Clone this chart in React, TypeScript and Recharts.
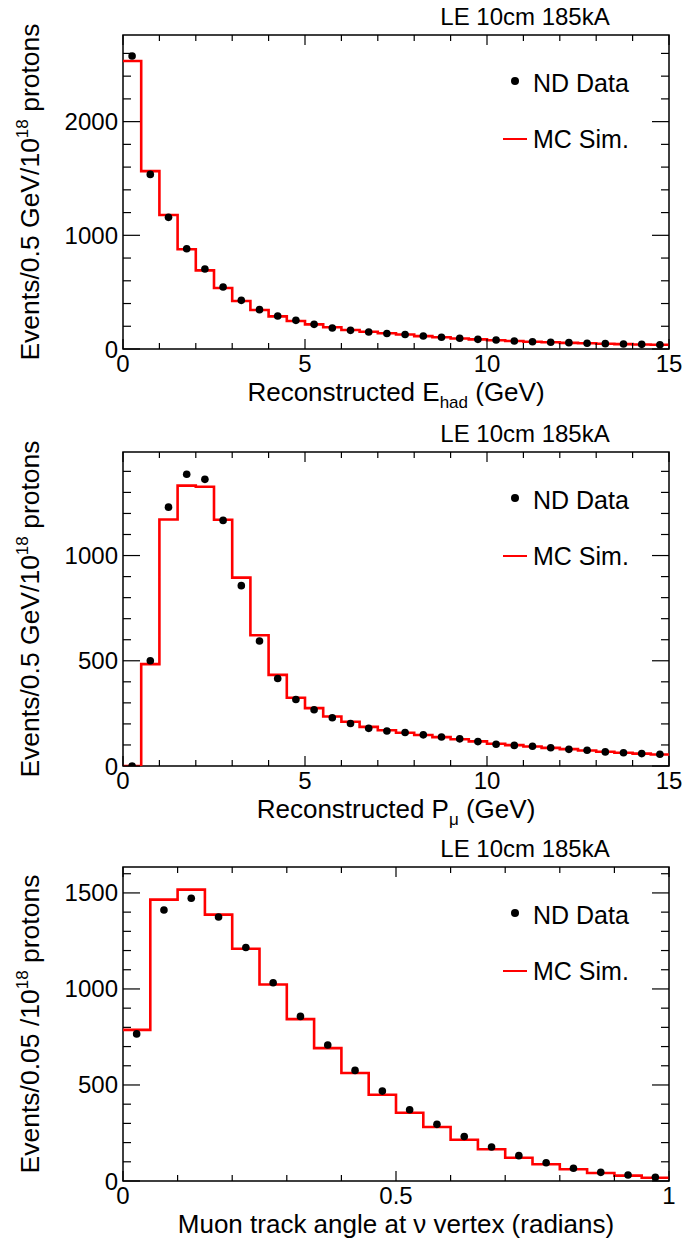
import React from 'react';
import { ComposedChart, Line, Scatter, XAxis, YAxis, ReferenceArea } from 'recharts';

const FONT = '"Liberation Sans", Arial, Helvetica, sans-serif';

// bin edges
const GEV_EDGES = [
  0, 0.5, 1, 1.5, 2, 2.5, 3, 3.5, 4, 4.5, 5, 5.5, 6, 6.5, 7, 7.5,
  8, 8.5, 9, 9.5, 10, 10.5, 11, 11.5, 12, 12.5, 13, 13.5, 14, 14.5, 15,
];
const ANGLE_EDGES = [
  0, 0.05, 0.1, 0.15, 0.2, 0.25, 0.3, 0.35, 0.4, 0.45, 0.5,
  0.55, 0.6, 0.65, 0.7, 0.75, 0.8, 0.85, 0.9, 0.95, 1,
];

// Reconstructed E_had
const EHAD_MC = [
  2533, 1565, 1179, 877, 692, 537, 422, 343, 287, 246, 217, 191, 167, 152, 138,
  127, 113, 103, 93, 85, 77, 70, 64, 59, 54, 50, 46, 43, 40, 37,
];
const EHAD_DATA = [
  2577, 1536, 1158, 882, 704, 545, 428, 346, 290, 252, 217, 185, 164, 150, 137,
  127, 114, 103, 94, 85, 79, 70, 64, 59, 56, 50, 47, 44, 41, 38,
];

// Reconstructed P_mu
const PMU_MC = [
  0, 484, 1171, 1332, 1327, 1170, 895, 621, 433, 324, 275, 235, 210, 186, 170,
  158, 147, 137, 127, 117, 106, 99, 93, 86, 80, 74, 68, 63, 59, 55,
];
const PMU_DATA = [
  0, 500, 1230, 1386, 1362, 1167, 857, 594, 416, 316, 267, 229, 202, 179, 166,
  159, 148, 138, 129, 116, 103, 98, 94, 87, 79, 75, 67, 63, 59, 56,
];

// Muon track angle
const ANGLE_MC = [
  787, 1465, 1517, 1387, 1209, 1023, 843, 692, 562, 449,
  355, 281, 215, 165, 121, 87, 61, 42, 28, 17,
];
const ANGLE_DATA = [
  766, 1411, 1472, 1375, 1216, 1032, 857, 708, 576, 468,
  371, 295, 232, 177, 132, 95, 66, 45, 31, 19,
];

// ticks
const GEV_TICKS = [0, 1, 2, 3, 4, 5, 6, 7, 8, 9, 10, 11, 12, 13, 14, 15];
const GEV_MAJOR = [0, 5, 10, 15];
const ANGLE_TICKS = [0, 0.1, 0.2, 0.3, 0.4, 0.5, 0.6, 0.7, 0.8, 0.9, 1];
const ANGLE_MAJOR = [0, 0.5, 1];
const EHAD_YTICKS = [0, 200, 400, 600, 800, 1000, 1200, 1400, 1600, 1800, 2000, 2200, 2400, 2600];
const EHAD_YMAJOR = [0, 1000, 2000];
const PMU_YTICKS = [0, 100, 200, 300, 400, 500, 600, 700, 800, 900, 1000, 1100, 1200, 1300, 1400];
const PMU_YMAJOR = [0, 500, 1000];
const ANGLE_YTICKS = [0, 100, 200, 300, 400, 500, 600, 700, 800, 900, 1000, 1100, 1200, 1300, 1400, 1500, 1600];
const ANGLE_YMAJOR = [0, 500, 1000, 1500];

const TITLE = 'LE 10cm 185kA';

const W = 685;
const H = 416;
const LEFT = 123;
const RIGHT = 16;
const TOP = 35;
const BOTTOM = 67;
const PLOT_W = W - LEFT - RIGHT;
const PLOT_H = H - TOP - BOTTOM;

const isIn = (list: number[], v: number) => list.some((m) => Math.abs(m - v) < 1e-9);

const makeXTick = (majors: number[]) => (props: any) => {
  const { x, y, payload } = props;
  const v = payload.value;
  const major = isIn(majors, v);
  const len = major ? 10 : 6;
  return (
    <g>
      <line x1={x} x2={x} y1={y} y2={y - len} stroke="#000" strokeWidth={1.2} />
      <line x1={x} x2={x} y1={y - PLOT_H} y2={y - PLOT_H + len} stroke="#000" strokeWidth={1.2} />
      {major && (
        <text x={x} y={y + 23} textAnchor="middle" fontSize={24} fontFamily={FONT} fill="#000">
          {String(v)}
        </text>
      )}
    </g>
  );
};

const makeYTick = (majors: number[]) => (props: any) => {
  const { x, y, payload } = props;
  const v = payload.value;
  const major = isIn(majors, v);
  const len = major ? 17 : 8;
  return (
    <g>
      <line x1={x} x2={x + len} y1={y} y2={y} stroke="#000" strokeWidth={1.2} />
      <line x1={x + PLOT_W - len} x2={x + PLOT_W} y1={y} y2={y} stroke="#000" strokeWidth={1.2} />
      {major && (
        <text x={x - 5} y={y} textAnchor="end" dominantBaseline="central" fontSize={24} fontFamily={FONT} fill="#000">
          {String(v)}
        </text>
      )}
    </g>
  );
};

interface PanelProps {
  top: number;
  edges: number[];
  mc: number[];
  data: number[];
  yMax: number;
  xTicks: number[];
  xMajor: number[];
  yTicks: number[];
  yMajor: number[];
  xTitle: React.ReactNode;
  yTitle: React.ReactNode;
}

function Panel({ top, edges, mc, data, yMax, xTicks, xMajor, yTicks, yMajor, xTitle, yTitle }: PanelProps) {
  const mcRows = edges.map((x, i) => ({ x, y: mc[Math.min(i, mc.length - 1)] }));
  const dataRows = data.map((y, i) => ({ x: (edges[i] + edges[i + 1]) / 2, y }));
  const xMax = edges[edges.length - 1];
  const midY = TOP + PLOT_H / 2;

  return (
    <div style={{ position: 'absolute', left: 0, top, width: W, height: H }}>
      <ComposedChart width={W} height={H} margin={{ top: TOP, right: RIGHT, left: 0, bottom: 0 }}>
        <XAxis
          type="number"
          dataKey="x"
          domain={[0, xMax]}
          ticks={xTicks}
          interval={0}
          height={BOTTOM}
          tickSize={0}
          tickMargin={0}
          axisLine={false}
          tickLine={false}
          tick={makeXTick(xMajor)}
          allowDataOverflow
        />
        <YAxis
          type="number"
          dataKey="y"
          domain={[0, yMax]}
          ticks={yTicks}
          interval={0}
          width={LEFT}
          tickSize={0}
          tickMargin={0}
          axisLine={false}
          tickLine={false}
          tick={makeYTick(yMajor)}
          allowDataOverflow
        />
        <Line
          data={mcRows}
          dataKey="y"
          type="stepAfter"
          stroke="#ff0000"
          strokeWidth={2.6}
          dot={false}
          activeDot={false}
          isAnimationActive={false}
        />
        <Scatter
          data={dataRows}
          dataKey="y"
          fill="#000"
          isAnimationActive={false}
          shape={(p: any) => <circle cx={p.cx} cy={p.cy} r={3.8} fill="#000" />}
        />
        <ReferenceArea x1={0} x2={xMax} y1={0} y2={yMax} fill="none" fillOpacity={0} stroke="#000" strokeWidth={1.5} />
      </ComposedChart>
      <svg width={W} height={H} style={{ position: 'absolute', left: 0, top: 0, pointerEvents: 'none' }}>
        <text x={525} y={25} textAnchor="middle" fontSize={24} fontFamily={FONT} fill="#000">
          {TITLE}
        </text>
        <circle cx={515} cy={81} r={4} fill="#000" />
        <text x={533} y={92} fontSize={25} fontFamily={FONT} fill="#000">
          ND Data
        </text>
        <line x1={503} x2={527} y1={139} y2={139} stroke="#ff0000" strokeWidth={2} />
        <text x={533} y={148} fontSize={25} fontFamily={FONT} fill="#000">
          MC Sim.
        </text>
        <text x={LEFT + PLOT_W / 2} y={401} textAnchor="middle" fontSize={26} fontFamily={FONT} fill="#000">
          {xTitle}
        </text>
        <text
          x={39}
          y={midY}
          transform={`rotate(-90 39 ${midY})`}
          textAnchor="middle"
          fontSize={26.5}
          fontFamily={FONT}
          fill="#000"
        >
          {yTitle}
        </text>
      </svg>
    </div>
  );
}

const yTitleGev = (
  <>
    Events/0.5 GeV/10<tspan dy={-11} fontSize={17}>18</tspan>
    <tspan dy={11}> protons</tspan>
  </>
);

export default function App() {
  return (
    <div style={{ position: 'absolute', left: 0, top: 0, width: W, height: 1245, background: '#fff' }}>
      <Panel
        top={0}
        edges={GEV_EDGES}
        mc={EHAD_MC}
        data={EHAD_DATA}
        yMax={2762}
        xTicks={GEV_TICKS}
        xMajor={GEV_MAJOR}
        yTicks={EHAD_YTICKS}
        yMajor={EHAD_YMAJOR}
        xTitle={
          <>
            Reconstructed E<tspan dy={7} fontSize={17}>had</tspan>
            <tspan dy={-7}> (GeV)</tspan>
          </>
        }
        yTitle={yTitleGev}
      />
      <Panel
        top={417}
        edges={GEV_EDGES}
        mc={PMU_MC}
        data={PMU_DATA}
        yMax={1492}
        xTicks={GEV_TICKS}
        xMajor={GEV_MAJOR}
        yTicks={PMU_YTICKS}
        yMajor={PMU_YMAJOR}
        xTitle={
          <>
            Reconstructed P<tspan dy={7} fontSize={17}>μ</tspan>
            <tspan dy={-7}> (GeV)</tspan>
          </>
        }
        yTitle={yTitleGev}
      />
      <Panel
        top={832}
        edges={ANGLE_EDGES}
        mc={ANGLE_MC}
        data={ANGLE_DATA}
        yMax={1635}
        xTicks={ANGLE_TICKS}
        xMajor={ANGLE_MAJOR}
        yTicks={ANGLE_YTICKS}
        yMajor={ANGLE_YMAJOR}
        xTitle="Muon track angle at ν vertex (radians)"
        yTitle={
          <>
            Events/0.05 /10<tspan dy={-11} fontSize={17}>18</tspan>
            <tspan dy={11}> protons</tspan>
          </>
        }
      />
    </div>
  );
}
